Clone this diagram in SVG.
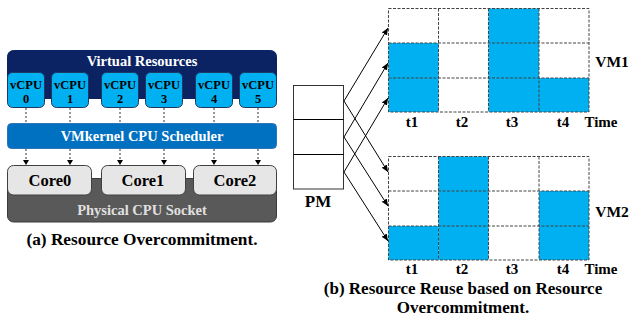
<svg xmlns="http://www.w3.org/2000/svg" width="631" height="321" viewBox="0 0 631 321">
<defs>
<marker id="ah" markerWidth="8" markerHeight="8" refX="7" refY="4" orient="auto" markerUnits="userSpaceOnUse"><path d="M0,1 L7,4 L0,7 Z" fill="#000"/></marker>
<marker id="ah2" markerWidth="6" markerHeight="6" refX="5" refY="3" orient="auto" markerUnits="userSpaceOnUse"><path d="M0,0 L5,3 L0,6 Z" fill="#000"/></marker>
<style>
text{font-family:"Liberation Serif","Times New Roman",serif;font-weight:bold;text-anchor:middle}
.vcpu rect{fill:#00B0F0;stroke:#1F3864;stroke-width:1}
.vcpu text{font-size:12.5px;fill:#000}
.core rect{fill:#E7E6E6;stroke:#404040;stroke-width:1}
.core text{font-size:16.5px;fill:#000}
.dash{stroke:#333;stroke-width:1;stroke-dasharray:2,2;fill:none}
.cell{fill:#00B0F0}
.grid{stroke:#444;stroke-width:1;stroke-dasharray:3,1.5;fill:none}
.lbl{font-size:15px;fill:#000}
.arr{stroke:#000;stroke-width:1;fill:none}
</style>
</defs>
<!-- Left panel -->
<g id="virtual-resources">
<rect x="7.5" y="50.5" width="269" height="48" rx="6" fill="#0B2362" stroke="#0B2362"/>
<text x="142" y="66" font-size="14.5" fill="#fff">Virtual Resources</text>
</g>
<g id="vcpu0" class="vcpu"><rect x="7.5" y="72.5" width="37" height="35" rx="5"/><text x="26" y="89">vCPU</text><text x="26" y="103">0</text></g>
<g id="vcpu1" class="vcpu"><rect x="51.5" y="72.5" width="37" height="35" rx="5"/><text x="70" y="89">vCPU</text><text x="70" y="103">1</text></g>
<g id="vcpu2" class="vcpu"><rect x="101.5" y="72.5" width="37" height="35" rx="5"/><text x="120" y="89">vCPU</text><text x="120" y="103">2</text></g>
<g id="vcpu3" class="vcpu"><rect x="145.5" y="72.5" width="37" height="35" rx="5"/><text x="164" y="89">vCPU</text><text x="164" y="103">3</text></g>
<g id="vcpu4" class="vcpu"><rect x="195.5" y="72.5" width="37" height="35" rx="5"/><text x="214" y="89">vCPU</text><text x="214" y="103">4</text></g>
<g id="vcpu5" class="vcpu"><rect x="239.5" y="72.5" width="37" height="35" rx="5"/><text x="258" y="89">vCPU</text><text x="258" y="103">5</text></g>
<g id="scheduler">
<rect x="7.5" y="123.5" width="269" height="25" rx="4" fill="#0070C0" stroke="#2E75B6"/>
<text x="142" y="141" font-size="14.5" fill="#fff">VMkernel CPU Scheduler</text>
</g>
<g id="socket">
<rect x="7.5" y="178.5" width="269" height="43.5" rx="6" fill="#595959" stroke="#3A3A3A"/>
<text x="142" y="215" font-size="14.5" fill="#E0E0E0">Physical CPU Socket</text>
</g>
<g id="core0" class="core"><rect x="7.5" y="165.5" width="84" height="29.5" rx="6"/><text x="50" y="186">Core0</text></g>
<g id="core1" class="core"><rect x="101.5" y="165.5" width="84" height="29.5" rx="6"/><text x="143" y="186">Core1</text></g>
<g id="core2" class="core"><rect x="193.5" y="165.5" width="83" height="29.5" rx="6"/><text x="235" y="186">Core2</text></g>
<g id="connectors-a">
<path class="dash" d="M26,108 V123 M70,108 V123 M120,108 V123 M164,108 V123 M214,108 V123 M258,108 V123"/>
<g class="dash" marker-end="url(#ah2)">
<line x1="26" y1="149" x2="26" y2="165"/>
<line x1="70" y1="149" x2="70" y2="165"/>
<line x1="120" y1="149" x2="120" y2="165"/>
<line x1="164" y1="149" x2="164" y2="165"/>
<line x1="214" y1="149" x2="214" y2="165"/>
<line x1="258" y1="149" x2="258" y2="165"/>
</g>
</g>
<text x="142" y="245" font-size="17.3" fill="#000">(a) Resource Overcommitment.</text>
<!-- Right panel -->
<g id="pm">
<rect x="293.5" y="85.5" width="50" height="103.5" fill="#fff" stroke="#333"/>
<path d="M293.5,119.5 H343.5 M293.5,154.5 H343.5" stroke="#000"/>
<text x="318" y="207" font-size="17" fill="#000">PM</text>
</g>
<g id="vm1">
<rect class="cell" x="488.5" y="8.5" width="50.5" height="34.5"/>
<rect class="cell" x="388.5" y="43" width="50" height="35"/>
<rect class="cell" x="488.5" y="43" width="50.5" height="35"/>
<rect class="cell" x="388.5" y="78" width="50" height="34"/>
<rect class="cell" x="488.5" y="78" width="50.5" height="34"/>
<rect class="cell" x="539" y="78" width="50" height="34"/>
<rect class="grid" x="388.5" y="8.5" width="200.5" height="103.5"/>
<path class="grid" d="M438.5,8.5 V112 M488.5,8.5 V112 M539,8.5 V112 M388.5,43 H589 M388.5,78 H589"/>
<text x="612" y="67" font-size="15.5">VM1</text>
<text class="lbl" x="412" y="127">t1</text>
<text class="lbl" x="462" y="127">t2</text>
<text class="lbl" x="512" y="127">t3</text>
<text class="lbl" x="563" y="127">t4</text>
<text class="lbl" x="601" y="127">Time</text>
</g>
<g id="vm2">
<rect class="cell" x="438.5" y="156.5" width="50" height="34.5"/>
<rect class="cell" x="438.5" y="191" width="50" height="35"/>
<rect class="cell" x="539" y="191" width="50" height="35"/>
<rect class="cell" x="388.5" y="226" width="50" height="34"/>
<rect class="cell" x="438.5" y="226" width="50" height="34"/>
<rect class="cell" x="539" y="226" width="50" height="34"/>
<rect class="grid" x="388.5" y="156.5" width="200.5" height="103.5"/>
<path class="grid" d="M438.5,156.5 V260 M488.5,156.5 V260 M539,156.5 V260 M388.5,191 H589 M388.5,226 H589"/>
<text x="612" y="217" font-size="15.5">VM2</text>
<text class="lbl" x="412" y="273.5">t1</text>
<text class="lbl" x="462" y="273.5">t2</text>
<text class="lbl" x="512" y="273.5">t3</text>
<text class="lbl" x="563" y="273.5">t4</text>
<text class="lbl" x="601" y="273.5">Time</text>
</g>
<g id="connectors-b" class="arr" marker-end="url(#ah)">
<line x1="344" y1="101" x2="388" y2="28"/>
<line x1="344" y1="137" x2="388" y2="63"/>
<line x1="344" y1="172" x2="388" y2="98"/>
<line x1="344" y1="101" x2="388" y2="172"/>
<line x1="344" y1="137" x2="388" y2="206"/>
<line x1="344" y1="172" x2="388" y2="241"/>
</g>
<text x="463" y="293.5" font-size="17" fill="#000">(b) Resource Reuse based on Resource</text>
<text x="463" y="313" font-size="17" fill="#000">Overcommitment.</text>
</svg>
